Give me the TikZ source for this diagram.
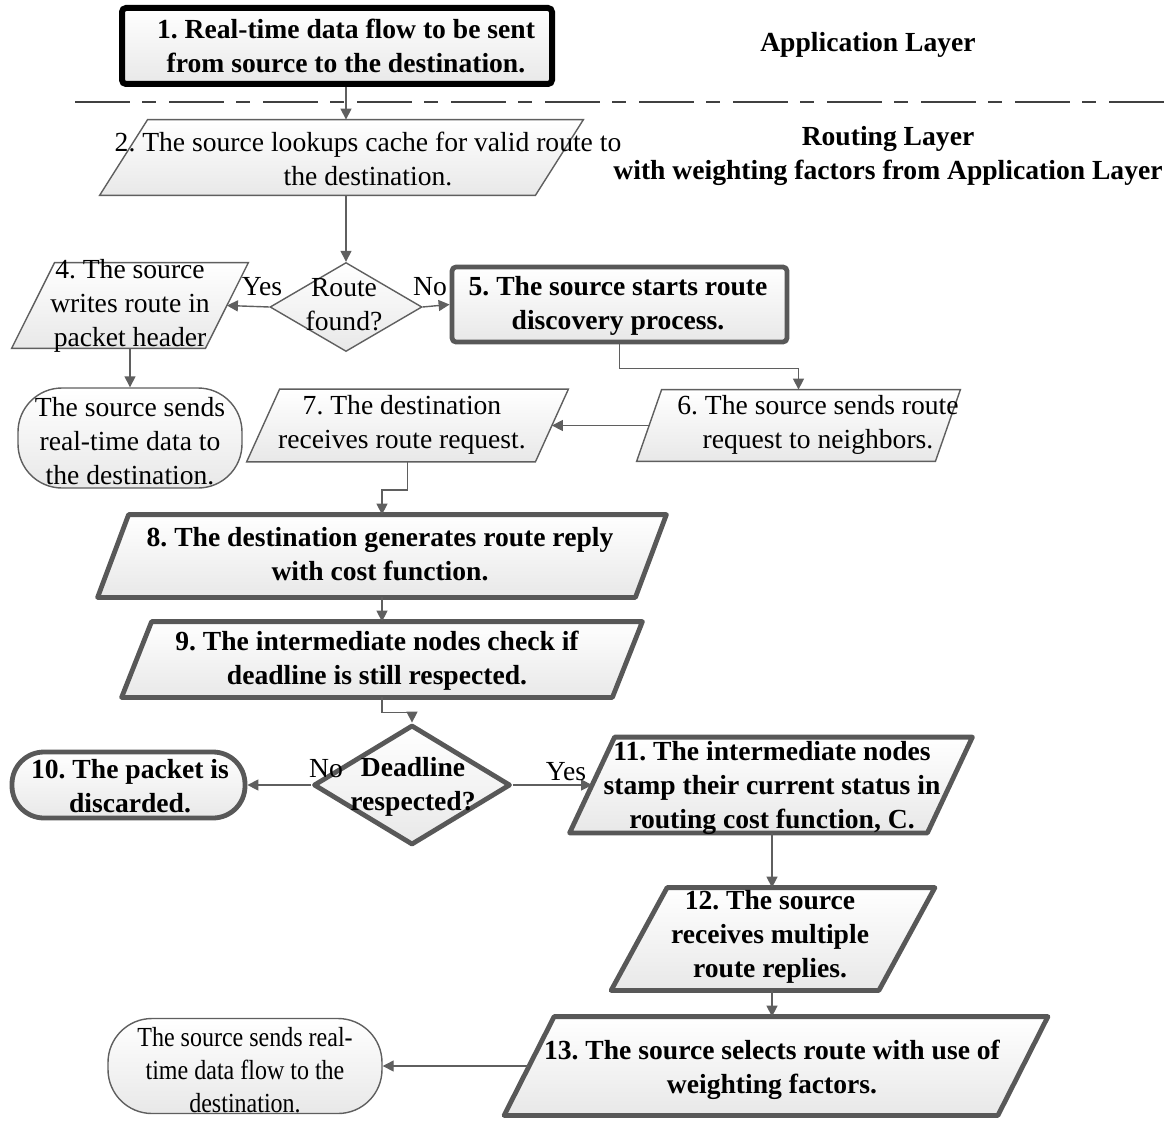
\documentclass[tikz,border=0pt]{standalone}
\usepackage{fontspec}
\setmainfont{Liberation Serif}
\newfontfamily\narrowserif{Liberation Serif}[FakeStretch=0.87]
\usepackage{tikz}
\usetikzlibrary{arrows.meta,shapes.geometric,calc}
\definecolor{edge}{RGB}{95,95,95}
\definecolor{rim}{RGB}{88,88,88}
\tikzset{
  shade/.style={top color=white,bottom color=black!9},
  thin/.style={shade,draw=edge,line width=0.7pt},
  thick/.style={shade,draw=rim,line width=2.4pt,line join=round},
  box/.style={inner sep=0pt},
  dia/.style={diamond,inner sep=0pt},
  txt/.style={inner sep=0pt,align=center,font=\fontsize{13.8}{17}\selectfont},
  btxt/.style={txt,font=\fontsize{13.8}{17}\selectfont\bfseries},
  flow/.style={draw=edge,line width=0.7pt,-{Triangle[length=5.5pt,width=5.5pt]}},
  sep/.style={draw=black!75,line width=1pt,dash pattern=on 27.5pt off 6pt on 7pt off 6.5pt}
}
% parallelogram: name, centre, width, height, skew (all in px), look
\newcommand{\paraShape}[6]{
  \node[box,minimum width=#3*0.5pt,minimum height=#4*0.5pt] (#1) at #2 {};
  \path[#6] ($(#1.north west)+(#5,0)$) -- (#1.north east)
    -- ($(#1.south east)-(#5,0)$) -- (#1.south west) -- cycle;
  \coordinate (#1-w) at ($(#1.west)+(0.5*#5,0)$);
  \coordinate (#1-e) at ($(#1.east)-(0.5*#5,0)$);
}

\begin{document}
\frenchspacing
\begin{tikzpicture}[x=0.5pt,y=-0.5pt]
  \useasboundingbox (0,0) rectangle (1171,1123);

  % ================= Application layer =================
  \node[box,shade,draw=black,line width=3pt,rounded corners=2pt,minimum width=215pt,minimum height=38pt] (n1) at (337,46) {};
  \node[btxt] (t1) at (346,46) {1. Real-time data flow to be sent\\from source to the destination.};
  \node[btxt] (lapp) at (868,45) {Application Layer};

  \coordinate (sepL) at (75,102);
  \coordinate (sepR) at (1171,102);
  \draw[sep] (sepL) -- (sepR);

  % ================= Routing layer =================
  \node[btxt] (lrout) at (888,156) {Routing Layer\\with weighting factors from Application Layer};

  \paraShape{n2}{(341.5,157.5)}{483}{75}{48}{thin}
  \node[txt] (t2) at (368,159) {2. The source lookups cache for valid route to\\the destination.};

  \node[thin,dia,minimum width=76pt,minimum height=44.5pt] (d3) at (346,307) {};
  \node[txt] (t3) at (344,305) {Route\\found?};

  \paraShape{n4}{(130,305.5)}{236}{85}{43}{thin}
  \node[txt] (t4) at (130,306) {4. The source\\writes route in\\packet header};

  \node[box,thin,rounded corners=22pt,minimum width=112pt,minimum height=50pt] (e4) at (130,438) {};
  \node[txt] (te4) at (130,441) {The source sends\\real-time data to\\the destination.};

  \node[box,thick,rounded corners=2pt,minimum width=167.5pt,minimum height=37.5pt] (n5) at (619.5,304.5) {};
  \node[btxt] (t5) at (618,306) {5. The source starts route\\discovery process.};

  \paraShape{n6}{(798.5,425.5)}{323}{71}{25}{thin}
  \node[txt] (t6) at (818,425) {6. The source sends route\\request to neighbors.};

  \paraShape{n7}{(407.5,425.5)}{321}{72}{33}{thin}
  \node[txt] (t7) at (402,425) {7. The destination\\receives route request.};

  \paraShape{n8}{(382,556)}{568}{82}{31}{thick}
  \node[btxt] (t8) at (380,554) {8. The destination generates route reply\\with cost function.};

  \paraShape{n9}{(382,659.5)}{520}{75}{30}{thick}
  \node[btxt] (t9) at (377,661) {9. The intermediate nodes check if\\deadline is still respected.};

  \node[thick,dia,minimum width=98.5pt,minimum height=60pt] (d10) at (412,785) {};
  \node[btxt] (td10) at (413,787) {Deadline\\respected?};

  \node[box,thick,rounded corners=16pt,minimum width=116.5pt,minimum height=33pt] (n10) at (128.5,785) {};
  \node[btxt] (t10) at (130,786) {10. The packet is\\discarded.};

  \paraShape{n11}{(771,785)}{402}{95}{45}{thick}
  \node[btxt] (t11) at (772,788) {11. The intermediate nodes\\stamp their current status in\\routing cost function, C.};

  \paraShape{n12}{(773,939)}{323}{102}{56}{thick}
  \node[btxt] (t12) at (770,937) {12. The source\\receives multiple\\route replies.};

  \paraShape{n13}{(776,1066)}{543}{98}{50}{thick}
  \node[btxt] (t13) at (772,1070) {13. The source selects route with use of\\weighting factors.};

  \node[box,thin,rounded corners=22pt,minimum width=137pt,minimum height=47.5pt] (e13) at (245,1066) {};
  \node[txt,font=\fontsize{13.8}{16.5}\selectfont\narrowserif] (te13) at (245,1070) {The source sends real-\\time data flow to the\\destination.};

  % ================= connectors =================
  \draw[flow] (n1.south -| t1) -- (t1 |- n2.north);
  \draw[flow] (n2.south -| d3.north) -- (d3.north);
  \draw[flow] (d3.west) -- (n4-e);
  \draw[flow] (d3.east) -- (n5.west);
  \node[txt] (yes3) at (262,287) {Yes};
  \node[txt] (no3) at (430,287) {No};
  \draw[flow] (n4.south) -- (e4.north);
  \draw[flow] (n5.south) -- ++(0,24) -| (n6.north);
  \draw[flow] (n6-w) -- (n7-e);
  \draw[flow] (n7.south) -- ++(0,28) -| (n8.north);
  \draw[flow] (n8.south) -- (n9.north);
  \draw[flow] (n9.south) -- ++(0,15) -| (d10.north);
  \draw[flow] (d10.west) -- (n10.east);
  \draw[flow] (d10.east) -- (n11-w);
  \node[txt] (no10) at (326,769) {No};
  \node[txt] (yes10) at (566,772) {Yes};
  \draw[flow] (n11.south -| t11) -- (t11 |- n12.north);
  \draw[flow] (n12.south -| t11) -- (t11 |- n13.north);
  \draw[flow] (n13-w) -- (e13.east);
\end{tikzpicture}
\end{document}
